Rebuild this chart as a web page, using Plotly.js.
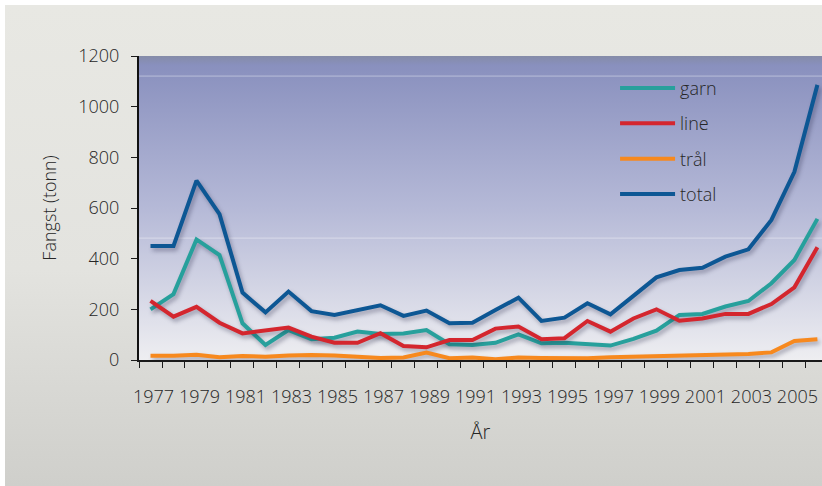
<!DOCTYPE html>
<html>
<head>
<meta charset="utf-8">
<script src="https://cdn.plot.ly/plotly-3.0.1.min.js"></script>
<style>
  html, body { margin: 0; padding: 0; background: #ffffff; width: 822px; height: 486px; overflow: hidden; }
  #panel { position: absolute; left: 5px; top: 5px; width: 817px; height: 481px;
           background: linear-gradient(to bottom, #e8e8e3 0%, #e3e3df 55%, #cfcfcb 100%); }
  #chart { width: 817px; height: 481px; }
  .scatterlayer .js-line { filter: drop-shadow(2px 3px 2px rgba(30,30,60,0.35)); }
</style>
</head>
<body>
<div id="panel"><div id="chart"></div></div>
<script>
const years = [1977,1978,1979,1980,1981,1982,1983,1984,1985,1986,1987,1988,1989,1990,1991,
               1992,1993,1994,1995,1996,1997,1998,1999,2000,2001,2002,2003,2004,2005,2006];
const garn  = [200,260,476,414,145,59,118,82,88,112,103,105,118,62,59,
               68,101,66,68,63,57,83,116,178,182,211,233,303,395,557];
const line  = [233,171,210,147,105,118,128,92,68,68,106,55,50,79,79,
               124,132,82,86,154,112,164,200,155,164,182,182,221,287,445];
const tral  = [17,17,21,11,16,13,18,20,18,12,8,10,29,7,10,
               3,10,8,7,7,11,13,16,20,20,20,24,30,75,82];
const total = [450,450,708,576,266,188,270,193,178,197,216,174,195,145,147,
               197,246,154,167,224,180,253,326,355,364,408,437,553,743,1086];
const seriesNames = ['garn', 'line', 'tr\u00e5l', 'total'];
const tickYears = years.filter(y => y % 2 === 1);
const boundaries = years.map(y => y - 0.5);

const colors = ['#27a09c', '#d4262e', '#f7891e', '#0d5794'];
const font = 'Open Sans, Lato, sans-serif';
const txt = '#262626';
const mkFont = (s) => ({ family: font, size: s, color: txt, weight: 300 });

const data = [garn, line, tral, total].map((vals, i) => ({
  type: 'scatter', mode: 'lines', x: years, y: vals, name: seriesNames[i],
  legendgroup: 'g' + i,
  line: { color: colors[i], width: 4, shape: 'linear' },
  hoverinfo: 'x+y+name'
}));

const gradSvg = '<svg xmlns="http://www.w3.org/2000/svg" viewBox="0 0 10 100" preserveAspectRatio="none">' +
  '<defs><linearGradient id="g" x1="0" y1="0" x2="0" y2="1">' +
  '<stop offset="0" stop-color="#858ca8"/>' +
  '<stop offset="0.03" stop-color="#8990be"/>' +
  '<stop offset="0.5" stop-color="#b5b9d7"/>' +
  '<stop offset="1" stop-color="#eeeef1"/>' +
  '</linearGradient></defs><rect x="0" y="0" width="10" height="100" fill="url(#g)"/></svg>';
const gradSrc = 'data:image/svg+xml;charset=utf-8,' + encodeURIComponent(gradSvg);

const layout = {
  width: 817, height: 481,
  margin: { l: 134, r: 0, t: 51, b: 126 },
  paper_bgcolor: 'rgba(0,0,0,0)',
  plot_bgcolor: 'rgba(0,0,0,0)',
  font: mkFont(18),
  showlegend: true,
  legend: {
    x: 0.697, y: 0.955, xanchor: 'left', yanchor: 'top',
    bgcolor: 'rgba(0,0,0,0)', borderwidth: 0,
    font: mkFont(18),
    traceorder: 'grouped', tracegroupgap: 9, itemwidth: 55
  },
  images: [{
    source: gradSrc, xref: 'paper', yref: 'paper', x: 0, y: 1,
    sizex: 1, sizey: 1, sizing: 'stretch', xanchor: 'left', yanchor: 'top', layer: 'below'
  }],
  shapes: [
    { type: 'line', xref: 'paper', yref: 'paper', x0: 0, x1: 1, y0: 0.934, y1: 0.934,
      line: { color: 'rgba(255,255,255,0.4)', width: 1 }, layer: 'below' },
    { type: 'line', xref: 'paper', yref: 'paper', x0: 0, x1: 1, y0: 0.401, y1: 0.401,
      line: { color: 'rgba(255,255,255,0.4)', width: 1 }, layer: 'below' }
  ],
  xaxis: {
    range: [1976.5, 2006.2],
    tickmode: 'array', tickvals: tickYears, ticktext: tickYears.map(String),
    ticks: '', tickangle: 0, ticklabelstandoff: 20, ticklabelshift: 3,
    tickfont: mkFont(18),
    showline: true, linecolor: '#1a1a1a', linewidth: 1.5,
    showgrid: false, zeroline: false,
    minor: { tickmode: 'array', tickvals: boundaries, ticks: 'outside', ticklen: 6, tickwidth: 1, tickcolor: '#1a1a1a', showgrid: false },
    title: { text: '\u00c5r', standoff: 18, font: mkFont(20) }
  },
  yaxis: {
    range: [0, 1200], tickmode: 'linear', tick0: 0, dtick: 200,
    ticks: 'outside', ticklen: 6, tickwidth: 1, tickcolor: '#1a1a1a',
    ticklabelstandoff: 8,
    tickfont: mkFont(18),
    showline: true, linecolor: '#111111', linewidth: 2,
    showgrid: false, zeroline: false,
    title: { text: 'Fangst (tonn)', standoff: 17, font: mkFont(18) }
  }
};

Plotly.newPlot('chart', data, layout, { displayModeBar: false, staticPlot: true });
</script>
</body>
</html>
